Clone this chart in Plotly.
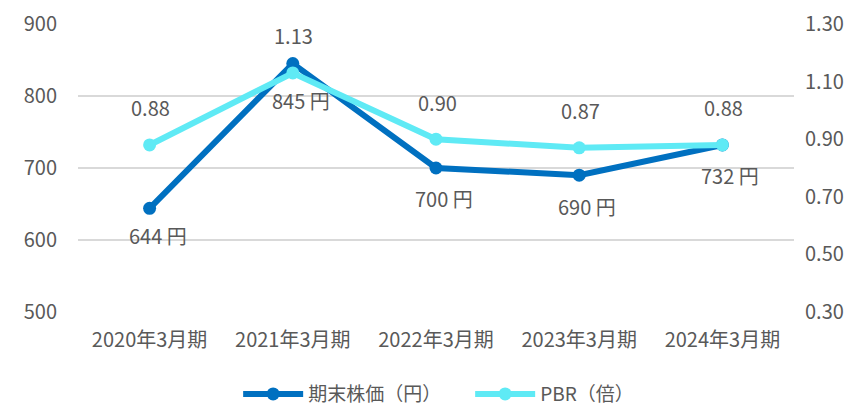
import plotly.graph_objects as go

categories = ["2020年3月期", "2021年3月期", "2022年3月期", "2023年3月期", "2024年3月期"]
stock_price = [644, 845, 700, 690, 732]
pbr = [0.88, 1.13, 0.90, 0.87, 0.88]
stock_labels = ["644 円", "845 円", "700 円", "690 円", "732 円"]
pbr_labels = ["0.88", "1.13", "0.90", "0.87", "0.88"]
left_ticks = [500, 600, 700, 800, 900]
right_ticks = [0.30, 0.50, 0.70, 0.90, 1.10, 1.30]

FONT = "Noto Sans CJK JP"
TXT = "#595959"
BLUE = "#0070C0"
CYAN = "#5FEAF5"
FS = 20

fig = go.Figure()
fig.add_trace(go.Scatter(
    x=categories, y=stock_price, name="期末株価（円）", mode="lines+markers",
    line=dict(color=BLUE, width=6), marker=dict(size=13, color=BLUE),
    yaxis="y"))
fig.add_trace(go.Scatter(
    x=categories, y=pbr, name="PBR（倍）", mode="lines+markers",
    line=dict(color=CYAN, width=6), marker=dict(size=13, color=CYAN),
    yaxis="y2"))

stock_shift = [-27, -37, -30, -31, -31]
annotations = []
for c, v, t, s in zip(categories, stock_price, stock_labels, stock_shift):
    annotations.append(dict(x=c, y=v, xref="x", yref="y", text=t, showarrow=False,
                            yshift=s, xshift=8, font=dict(family=FONT, size=FS, color=TXT)))
for c, v, t in zip(categories, pbr, pbr_labels):
    annotations.append(dict(x=c, y=v, xref="x", yref="y2", text=t, showarrow=False,
                            yshift=37, xshift=1, font=dict(family=FONT, size=FS, color=TXT)))

fig.update_layout(
    width=852, height=407,
    margin=dict(l=78, r=58, t=24, b=95, autoexpand=False),
    paper_bgcolor="white", plot_bgcolor="white",
    font=dict(family=FONT, size=FS, color=TXT),
    showlegend=True,
    legend=dict(orientation="h", x=0.5477, xanchor="center", y=-0.285, yanchor="middle",
                itemwidth=60, entrywidth=157, entrywidthmode="pixels",
                font=dict(family=FONT, size=19, color=TXT),
                traceorder="normal"),
    xaxis=dict(type="category", range=[-0.5, 4.5], showgrid=False, zeroline=False,
               showline=False, ticks="", ticklabelstandoff=14,
               tickfont=dict(family=FONT, size=FS, color=TXT)),
    yaxis=dict(range=[500, 900], tickvals=left_ticks, showgrid=True,
               gridcolor="#D9D9D9", gridwidth=1.5, zeroline=False, showline=False,
               ticks="", ticklabelstandoff=20,
               tickfont=dict(family=FONT, size=FS, color=TXT)),
    yaxis2=dict(range=[0.3, 1.3], tickvals=right_ticks, tickformat=".2f",
                overlaying="y", side="right", showgrid=False, zeroline=False,
                showline=False, ticks="", ticklabelstandoff=10,
                tickfont=dict(family=FONT, size=FS, color=TXT)),
    annotations=annotations,
)

fig.write_html("out.html", config={"displayModeBar": False},
               post_script="document.body.style.margin='0';document.body.style.overflow='hidden';")
